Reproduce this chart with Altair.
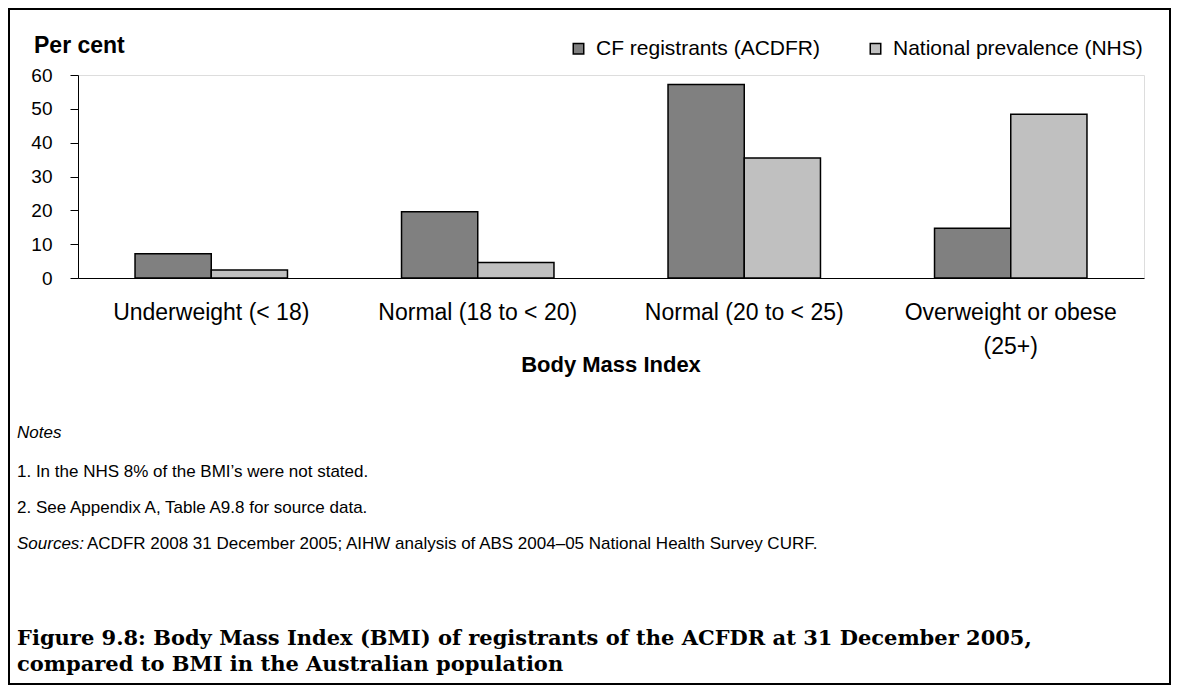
import altair as alt
import pandas as pd

categories = ["Underweight (< 18)", "Normal (18 to < 20)", "Normal (20 to < 25)", "Overweight or obese (25+)"]
series = ["CF registrants (ACDFR)", "National prevalence (NHS)"]
cf_values = [7.2, 19.6, 57.2, 14.7]
nhs_values = [2.4, 4.6, 35.5, 48.4]
colors = ["#808080", "#C0C0C0"]
y_ticks = [0, 10, 20, 30, 40, 50, 60]

notes_heading = "Notes"
note_lines = ["1. In the NHS 8% of the BMI\u2019s were not stated.",
              "2. See Appendix A, Table A9.8 for source data."]
sources_label = "Sources:"
sources_text = "ACDFR 2008 31 December 2005; AIHW analysis of ABS 2004\u201305 National Health Survey CURF."
title_lines = ["Figure 9.8: Body Mass Index (BMI) of registrants of the ACFDR at 31 December 2005,",
               "compared to BMI in the Australian population"]

rows = []
for c, a, b in zip(categories, cf_values, nhs_values):
    rows.append({"category": c, "series": series[0], "value": a})
    rows.append({"category": c, "series": series[1], "value": b})
df = pd.DataFrame(rows)

W, H = 1066, 203
SANS = "Liberation Sans"

bars = alt.Chart(df).mark_bar(stroke="black", strokeWidth=1.5).encode(
    x=alt.X("category:N", sort=categories,
            scale=alt.Scale(paddingInner=0.428, paddingOuter=0.214),
            axis=alt.Axis(title=None, labelAngle=0, ticks=False, labelFontSize=23,
                          labelFont=SANS, labelColor="black", labelPadding=23,
                          labelLineHeight=34, labelLimit=0, domainColor="black", domainWidth=1,
                          labelExpr="datum.value == 'Overweight or obese (25+)' ? ['Overweight or obese', '(25+)'] : datum.label")),
    xOffset=alt.XOffset("series:N", sort=series, scale=alt.Scale(paddingInner=0, paddingOuter=0)),
    y=alt.Y("value:Q", scale=alt.Scale(domain=[0, 60], nice=False),
            axis=alt.Axis(title=None, values=y_ticks, grid=False, labelFontSize=19,
                          labelFont=SANS, labelColor="black", labelPadding=18,
                          tickSize=8, tickColor="black", domainColor="black")),
    color=alt.Color("series:N", sort=series,
                    scale=alt.Scale(domain=series, range=colors),
                    legend=alt.Legend(title=None, orient="none", direction="horizontal",
                                      legendX=490, legendY=-37, symbolType="square",
                                      symbolSize=110, symbolStrokeColor="black",
                                      symbolStrokeWidth=1.5, labelFontSize=21,
                                      labelFont=SANS, labelColor="black", labelOffset=7,
                                      labelLimit=0, columnPadding=44, padding=0)),
)


def text_layer(txt, x, y, size, weight="normal", style="normal", font=SANS, align="left", baseline="middle"):
    return alt.Chart(pd.DataFrame({"t": [txt]})).mark_text(
        align=align, baseline=baseline, fontSize=size, fontWeight=weight,
        fontStyle=style, font=font, color="black"
    ).encode(text="t:N", x=alt.value(x), y=alt.value(y))


frame = alt.Chart(pd.DataFrame({"a": [0]})).mark_rect(
    fill="white", fillOpacity=0, stroke="black", strokeWidth=2
).encode(x=alt.value(-69), x2=alt.value(W + 26), y=alt.value(-66), y2=alt.value(H + 406))

layers = [
    frame,
    bars,
    text_layer("Per cent", -44, -29, 23, weight="bold"),
    text_layer("Body Mass Index", W / 2, 290, 22, weight="bold", align="center"),
    text_layer(notes_heading, -61, 358, 17, style="italic"),
    text_layer(note_lines[0], -61, 397, 17),
    text_layer(note_lines[1], -61, 433, 17),
    text_layer(sources_label, -61, 469, 17, style="italic"),
    text_layer(sources_text, -61 + 70, 469, 17),
    text_layer(title_lines[0], -61, 570, 21, weight="bold", font="DejaVu Serif", baseline="alphabetic"),
    text_layer(title_lines[1], -61, 596, 21, weight="bold", font="DejaVu Serif", baseline="alphabetic"),
]

chart = alt.layer(*layers).properties(
    width=W, height=H,
    autosize=alt.AutoSizeParams(type="none"),
    padding={"left": 70, "top": 67, "right": 27, "bottom": 407},
).configure_view(strokeWidth=0).configure(background="white")

chart.save("out.html", embed_options={"renderer": "svg", "actions": False})
